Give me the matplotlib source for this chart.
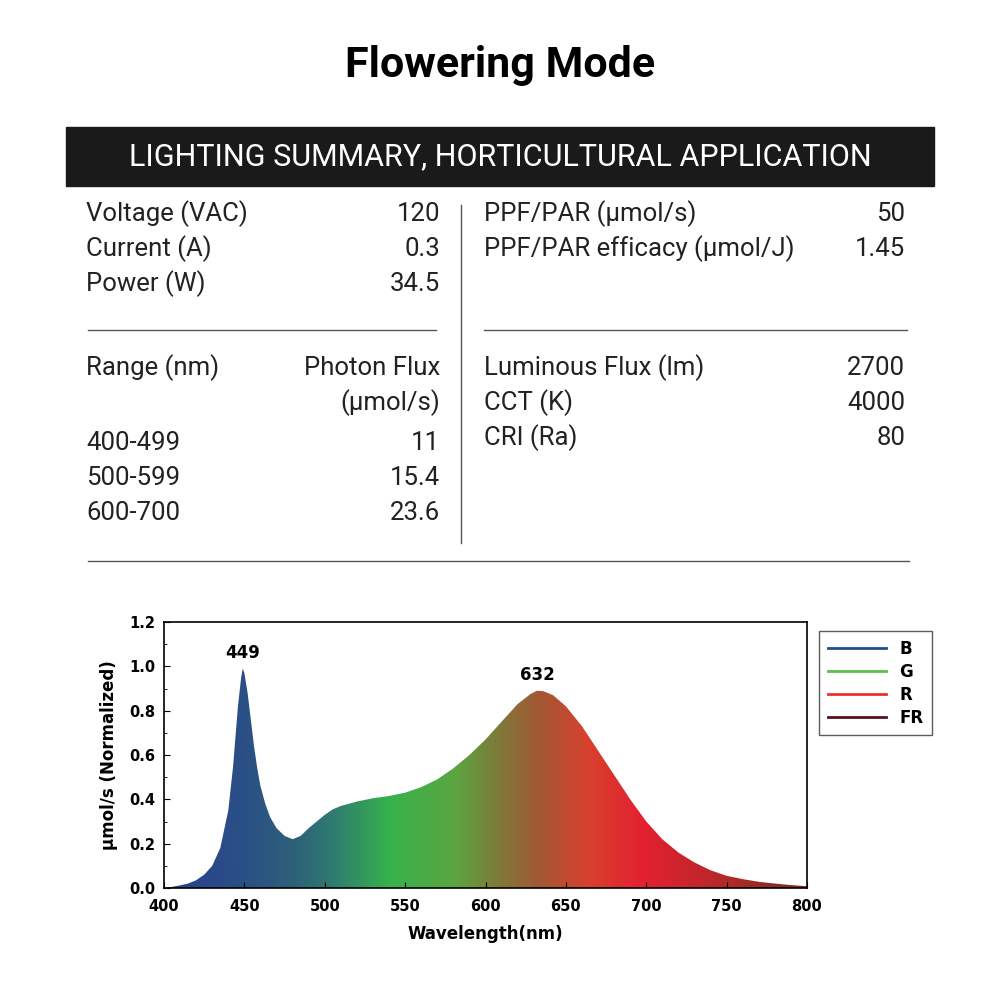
import matplotlib
matplotlib.use("Agg")
import matplotlib.pyplot as plt
import numpy as np
from matplotlib.colors import LinearSegmentedColormap
from matplotlib.patches import Rectangle, Polygon
from matplotlib.lines import Line2D

wl = [400,405,410,415,420,425,430,435,440,443,446,448,449,450,452,454,456,458,460,463,466,470,475,480,485,490,495,500,505,510,520,530,540,550,560,570,580,590,600,610,620,628,632,636,642,650,660,670,680,690,700,710,720,730,740,750,760,770,780,790,800]
val = [0.0,0.005,0.012,0.02,0.035,0.06,0.1,0.18,0.35,0.55,0.82,0.95,0.99,0.97,0.88,0.76,0.64,0.54,0.46,0.38,0.32,0.27,0.235,0.22,0.235,0.27,0.3,0.33,0.355,0.37,0.39,0.405,0.415,0.43,0.455,0.49,0.54,0.6,0.67,0.75,0.83,0.875,0.89,0.888,0.87,0.82,0.73,0.62,0.51,0.4,0.3,0.22,0.16,0.115,0.08,0.055,0.04,0.028,0.02,0.013,0.008]
peaks = [(449, 0.99), (632, 0.89)]
legend_labels = ["B", "G", "R", "FR"]
legend_colors = ["#1f4e8c", "#5cc04a", "#e8322e", "#5a0e1e"]

FONT = ["Roboto", "DejaVu Sans"]
fig = plt.figure(figsize=(10, 10), dpi=100)
fig.patch.set_facecolor("white")

fig.text(0.5, 0.935, "Flowering Mode", ha="center", va="center", fontsize=31, fontweight="bold", family=FONT)
fig.patches.append(Rectangle((0.066, 0.814), 0.868, 0.059, transform=fig.transFigure, color="#1a1a1a"))
fig.text(0.5, 0.843, "LIGHTING SUMMARY, HORTICULTURAL APPLICATION", ha="center", va="center", fontsize=22, color="white", family=FONT)

fs = 18.5
def row(x1, x2, y, a, b):
    fig.text(x1, 1 - y/1000, a, ha="left", va="center", fontsize=fs, family=FONT, color="#222")
    fig.text(x2, 1 - y/1000, b, ha="right", va="center", fontsize=fs, family=FONT, color="#222")

left_top = [("Voltage (VAC)", "120"), ("Current (A)", "0.3"), ("Power (W)", "34.5")]
right_top = [("PPF/PAR (µmol/s)", "50"), ("PPF/PAR efficacy (µmol/J)", "1.45")]
for i, (a, b) in enumerate(left_top):
    row(0.086, 0.44, 214 + 35*i, a, b)
for i, (a, b) in enumerate(right_top):
    row(0.484, 0.905, 214 + 35*i, a, b)
row(0.086, 0.44, 368, "Range (nm)", "Photon Flux")
row(0.086, 0.44, 403, "", "(µmol/s)")
ranges = [("400-499", "11"), ("500-599", "15.4"), ("600-700", "23.6")]
for i, (a, b) in enumerate(ranges):
    row(0.086, 0.44, 443 + 35*i, a, b)
right_bot = [("Luminous Flux (lm)", "2700"), ("CCT (K)", "4000"), ("CRI (Ra)", "80")]
for i, (a, b) in enumerate(right_bot):
    row(0.484, 0.905, 368 + 35*i, a, b)

for (x0, x1, y) in [(0.088, 0.436, 330), (0.484, 0.907, 330), (0.088, 0.909, 561)]:
    fig.add_artist(Line2D([x0, x1], [1 - y/1000]*2, color="#555", lw=1))
fig.add_artist(Line2D([0.461, 0.461], [1 - 205/1000, 1 - 543/1000], color="#555", lw=1))

ax = fig.add_axes([0.164, 0.112, 0.643, 0.266])
cmap = LinearSegmentedColormap.from_list("spec", [
    (0.0, "#2a3f8f"), (0.12, "#2a4f86"), (0.2, "#2d6078"), (0.26, "#2f7a70"),
    (0.35, "#36b24c"), (0.45, "#5aa640"), (0.52, "#7e7a3a"), (0.58, "#a05a34"),
    (0.66, "#d8402e"), (0.75, "#e42030"), (0.88, "#b02a28"), (1.0, "#7a2a20")])
grad = np.linspace(0, 1, 400).reshape(1, -1)
im = ax.imshow(grad, extent=[400, 800, 0, 1.2], aspect="auto", cmap=cmap, origin="lower", zorder=1)
poly = Polygon(list(zip(wl, val)) + [(800, 0), (400, 0)], closed=True, facecolor="none", edgecolor="none")
ax.add_patch(poly)
im.set_clip_path(poly)
for x, y in peaks:
    ax.text(x, y + 0.03, str(x), ha="center", va="bottom", fontsize=12, fontweight="bold")
ax.set_xlim(400, 800)
ax.set_ylim(0, 1.2)
ax.set_xticks(range(400, 801, 50))
ax.set_yticks(np.arange(0, 1.21, 0.2))
ax.set_yticklabels([f"{v:.1f}" for v in np.arange(0, 1.21, 0.2)])
ax.set_yticks(np.arange(0, 1.21, 0.1), minor=True)
for lab in ax.get_xticklabels() + ax.get_yticklabels():
    lab.set_fontweight("bold"); lab.set_fontsize(10.5)
ax.tick_params(axis="x", pad=8)
ax.tick_params(axis="y", pad=6)
ax.set_xlabel("Wavelength(nm)", fontsize=12, fontweight="bold", labelpad=8)
ax.set_ylabel("µmol/s (Normalized)", fontsize=12, fontweight="bold", labelpad=8)
ax.tick_params(direction="in", length=4)
ax.tick_params(which="minor", direction="in", length=2)
for s in ax.spines.values():
    s.set_linewidth(1.2)

handles = [Line2D([], [], color=c, lw=2) for c in legend_colors]
fig.legend(handles, legend_labels, loc="upper left", bbox_to_anchor=(0.811, 0.377),
           frameon=True, fancybox=False, edgecolor="#333", prop={"weight": "bold", "size": 12},
           handlelength=3.5, labelspacing=0.3, borderpad=0.5)
fig.savefig("out.png", dpi=100)
